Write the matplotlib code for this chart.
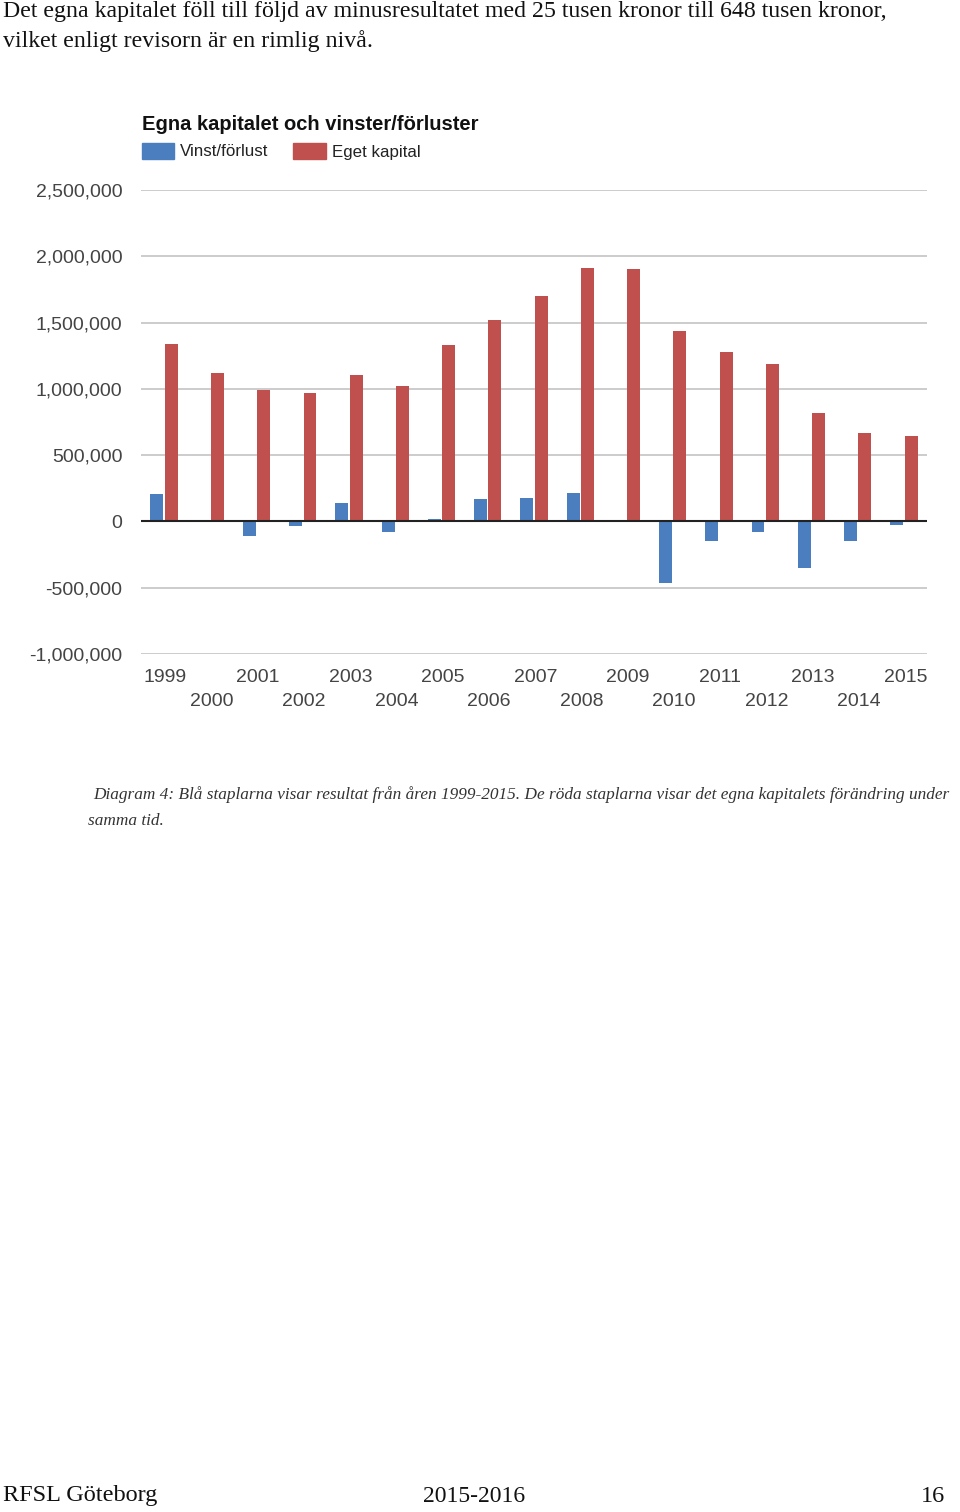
import matplotlib
matplotlib.use("Agg")
import matplotlib.pyplot as plt
from matplotlib.patches import Rectangle
from matplotlib.ticker import FuncFormatter
import numpy as np

years = [str(y) for y in range(1999, 2016)]
vinst = [204000, 0, -109000, -35000, 136000, -78000, 22000, 166000, 178000, 216000,
         0, -465000, -149000, -78000, -352000, -149000, -25000]
eget = [1342000, 1118000, 995000, 965000, 1105000, 1018000, 1332000, 1518000, 1701000,
        1915000, 1905000, 1435000, 1279000, 1189000, 819000, 666000, 646000]
yticks = [-1000000, -500000, 0, 500000, 1000000, 1500000, 2000000, 2500000]
series_names = ["Vinst/förlust", "Eget kapital"]
title = "Egna kapitalet och vinster/förluster"

blue = "#4a7ebf"
red = "#c0504d"

W, H = 960, 1512
fig = plt.figure(figsize=(W / 100, H / 100), dpi=100)

def fx(px):
    return px / W

def fy(py):
    return 1 - py / H

# Body text
serif = ["Liberation Serif", "DejaVu Serif"]
fig.text(fx(3), fy(12), "Det egna kapitalet föll till följd av minusresultatet med 25 tusen kronor till 648 tusen kronor,",
         family=serif, fontsize=17.2, va="center", ha="left", color="#111111")
fig.text(fx(3), fy(41), "vilket enligt revisorn är en rimlig nivå.",
         family=serif, fontsize=17.2, va="center", ha="left", color="#111111")

# Chart axes
ax = fig.add_axes([fx(141), fy(654), fx(927) - fx(141), fy(190) - fy(654)])
x = np.arange(len(years))
bw = 0.28
ax.bar(x - 0.155, vinst, width=bw, color=blue, zorder=3)
ax.bar(x + 0.155, eget, width=bw, color=red, zorder=3)
ax.set_xlim(-0.5, len(years) - 0.5)
ax.set_ylim(yticks[0], yticks[-1])
ax.set_yticks(yticks)
ax.yaxis.set_major_formatter(FuncFormatter(lambda v, p: f"{int(v):,}"))
ax.grid(axis="y", color="#c4c4c4", linewidth=1.2, zorder=0)
ax.axhline(0, color="#222222", linewidth=1.5, zorder=4)
for s in ax.spines.values():
    s.set_visible(False)
sans = ["Liberation Sans", "DejaVu Sans"]
ax.tick_params(axis="y", length=0, pad=13.5, labelsize=14, labelcolor="#444444")
for lbl in ax.get_yticklabels():
    lbl.set_family(sans)
ax.set_xticks(x)
ax.set_xticklabels([])
ax.tick_params(axis="x", length=0)
for i, yr in enumerate(years):
    ypix = 677 if i % 2 == 0 else 701
    ax.text(i + 0.03, -(ypix - 654) / 464, yr, transform=ax.get_xaxis_transform(),
            ha="center", va="center", fontsize=14, color="#444444", family=sans)

# Title and legend
fig.text(fx(142), fy(125), title, family=sans, fontsize=14.5, fontweight="bold",
         va="center", ha="left", color="#111111")
fig.patches.append(Rectangle((fx(142), fy(159)), fx(32), fy(143) - fy(159),
                             transform=fig.transFigure, color=blue))
fig.text(fx(180), fy(152), series_names[0], family=sans, fontsize=12.2, va="center",
         ha="left", color="#222222")
fig.patches.append(Rectangle((fx(293), fy(159)), fx(33), fy(143) - fy(159),
                             transform=fig.transFigure, color=red))
fig.text(fx(332), fy(152), series_names[1], family=sans, fontsize=12.2, va="center",
         ha="left", color="#222222")

# Caption
fig.text(fx(93), fy(795), "Diagram 4: Blå staplarna visar resultat från åren 1999-2015. De röda staplarna visar det egna kapitalets förändring under",
         family=serif, style="italic", fontsize=12.4, va="center", ha="left", color="#333333")
fig.text(fx(88), fy(821), "samma tid.",
         family=serif, style="italic", fontsize=12.4, va="center", ha="left", color="#333333")

# Footer
fig.text(fx(3), fy(1496), "RFSL Göteborg", family=serif, fontsize=17.5, va="center", ha="left", color="#111111")
fig.text(fx(474), fy(1496), "2015-2016", family=serif, fontsize=17, va="center", ha="center", color="#111111")
fig.text(fx(945), fy(1496), "16", family=serif, fontsize=17.5, va="center", ha="right", color="#111111")

fig.savefig("out.png", dpi=100)
